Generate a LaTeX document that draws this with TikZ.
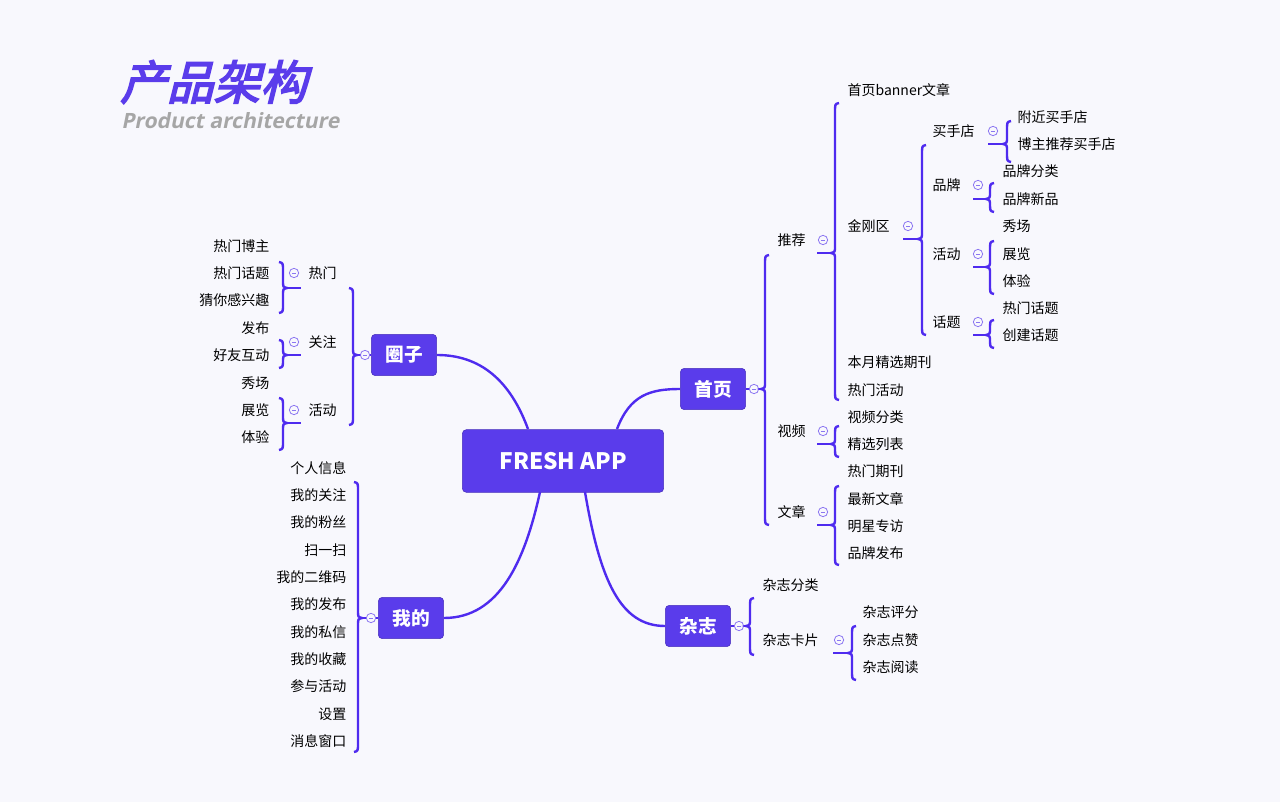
\documentclass[tikz,border=0pt]{standalone}
\usepackage{fontspec}
\setmainfont{Noto Sans CJK SC}
\newfontfamily\cjkt[FakeSlant=0.25,FakeBold=3.5]{Noto Sans CJK SC}
\newfontfamily\opt[FakeSlant=0.2]{Open Sans}
\begin{document}
\definecolor{pur}{HTML}{5A3CEB}
\definecolor{ln}{HTML}{4F2BEF}
\definecolor{bg}{HTML}{F8F8FD}
\newcommand{\brc}[5]{% x, top, mid, bot, dir
  \draw[br] ({#1+4*#5},#2) .. controls ({#1},{#2+1}) .. ({#1},{#2+9}) -- ({#1},{#3-7}) .. controls ({#1},{#3-1}) .. ({#1-4*#5},#3) .. controls ({#1},{#3+1}) .. ({#1},{#3+7}) -- ({#1},{#4-9}) .. controls ({#1},{#4-1}) .. ({#1+4*#5},#4);}
\begin{tikzpicture}[x=0.75pt,y=-0.75pt,
  box/.style={fill=pur,draw=pur!80!black,rounded corners=3pt,text=white,font=\fontsize{14}{16}\selectfont\bfseries,minimum height=31pt,inner sep=0pt},
  lf/.style={font=\fontsize{10.5}{12}\selectfont,inner sep=1pt},
  L/.style={lf,anchor=west},
  R/.style={lf,anchor=east},
  cir/.style={circle,draw=pur!70,fill=bg,line width=0.6pt,minimum size=7pt,inner sep=0pt,path picture={\draw[pur!70,line width=0.5pt] ([xshift=-1.6pt]path picture bounding box.center)--([xshift=1.6pt]path picture bounding box.center);}},
  br/.style={draw=ln,line width=1.8pt},
  con/.style={draw=ln,line width=1.8pt}]
\fill[bg] (0,0) rectangle (1280,802);
\useasboundingbox (0,0) rectangle (1280,802);
% title
\node[anchor=west,text=pur,font=\cjkt\fontsize{35}{38}\selectfont,inner sep=0] (t1) at (120,82) {产品架构};
\node[anchor=west,text=gray!70,font=\opt\fontsize{15.8}{18}\selectfont\bfseries,inner sep=0] (t2) at (121,121) {Product architecture};
% main boxes
\node[box,minimum width=151pt,font=\fontsize{17}{19}\selectfont\bfseries,minimum height=47pt] (app) at (563,461) {FRESH APP};
\node[box,minimum width=49pt] (sy) at (713,389) {首页};
\node[box,minimum width=49pt] (zz) at (698,626) {杂志};
\node[box,minimum width=49pt] (qz) at (404,355) {圈子};
\node[box,minimum width=49pt] (wd) at (411,618) {我的};
\draw[con] (617,429) .. controls (630,395) and (650,389) .. (sy.west);
\draw[con] (585,492) .. controls (600,580) and (620,626) .. (zz.west);
\draw[con] (528,429) .. controls (510,380) and (480,355) .. (qz.east);
\draw[con] (540,492) .. controls (525,560) and (500,618) .. (wd.east);
% 首页
\node[cir] (c-sy) at (754,389) {};
\draw[br] (sy.east)--(c-sy) (c-sy)--(761,389);
\brc{765}{255}{389}{525}{1}
\node[L] (tj) at (776,240) {推荐};
\node[L] (sp) at (776,431) {视频};
\node[L] (wz) at (776,512) {文章};
\node[cir] (c-tj) at (823,240) {};
\node[cir] (c-sp) at (823,431) {};
\node[cir] (c-wz) at (823,512) {};
\draw[br] (817,253)--(831,253) (817,444)--(831,444) (817,525)--(831,525);
% 推荐
\brc{835}{103}{253}{400}{1}
\node[L] (t-a) at (846,90) {首页banner文章};
\node[L] (jgq) at (846,226) {金刚区};
\node[L] (t-c) at (846,362) {本月精选期刊};
\node[L] (t-d) at (846,390) {热门活动};
\node[cir] (c-jgq) at (908,226) {};
\draw[br] (903,239)--(918,239);
\brc{922}{145}{239}{335}{1}
\node[L] (msd) at (931,131) {买手店};
\node[L] (pp) at (931,185) {品牌};
\node[L] (hd) at (931,254) {活动};
\node[L] (ht) at (931,322) {话题};
\node[cir] (c-ja) at (993,131) {};
\node[cir] (c-jb) at (978,185) {};
\node[cir] (c-jc) at (978,254) {};
\node[cir] (c-jd) at (978,322) {};
\draw[br] (988,144)--(1003,144) (973,199)--(986,199) (973,267)--(986,267) (973,335)--(986,335);
\brc{1007}{121}{144}{162}{1}
\node[L] (m1) at (1016,117) {附近买手店};
\node[L] (m2) at (1016,144) {博主推荐买手店};
\brc{990}{183}{199}{212}{1}
\node[L] (p1) at (1001,171) {品牌分类};
\node[L] (p2) at (1001,199) {品牌新品};
\brc{990}{241}{267}{294}{1}
\node[L] (h1) at (1001,226) {秀场};
\node[L] (h2) at (1001,254) {展览};
\node[L] (h3) at (1001,281) {体验};
\brc{990}{320}{335}{348}{1}
\node[L] (g1) at (1001,308) {热门话题};
\node[L] (g2) at (1001,335) {创建话题};
% 视频
\brc{835}{426}{444}{457}{1}
\node[L] (v1) at (846,417) {视频分类};
\node[L] (v2) at (846,444) {精选列表};
% 文章
\brc{835}{486}{525}{565}{1}
\node[L] (w1) at (846,471) {热门期刊};
\node[L] (w2) at (846,499) {最新文章};
\node[L] (w3) at (846,526) {明星专访};
\node[L] (w4) at (846,553) {品牌发布};
% 杂志
\node[cir] (c-zz) at (739,626) {};
\draw[br] (zz.east)--(c-zz) (c-zz)--(746,626);
\brc{750}{598}{626}{655}{1}
\node[L] (z1) at (761,585) {杂志分类};
\node[L] (zk) at (761,640) {杂志卡片};
\node[cir] (c-zk) at (839,640) {};
\draw[br] (833,653)--(848,653);
\brc{852}{626}{653}{680}{1}
\node[L] (k1) at (861,612) {杂志评分};
\node[L] (k2) at (861,640) {杂志点赞};
\node[L] (k3) at (861,667) {杂志阅读};
% 圈子
\node[cir] (c-qz) at (365,355) {};
\draw[br] (qz.west)--(c-qz) (c-qz)--(358,355);
\brc{353}{288}{355}{425}{-1}
\node[L] (rm) at (307,273) {热门};
\node[L] (gz) at (307,342) {关注};
\node[L] (hd2) at (307,410) {活动};
\node[cir] (c-rm) at (294,273) {};
\node[cir] (c-gz) at (294,342) {};
\node[cir] (c-hd) at (294,410) {};
\draw[br] (286,288)--(301,288) (286,355)--(301,355) (286,423)--(301,423);
\brc{283}{262}{288}{313}{-1}
\brc{283}{340}{355}{368}{-1}
\brc{283}{398}{423}{450}{-1}
\node[R] (q1) at (271,246) {热门博主};
\node[R] (q2) at (271,273) {热门话题};
\node[R] (q3) at (271,300) {猜你感兴趣};
\node[R] (q4) at (271,328) {发布};
\node[R] (q5) at (271,355) {好友互动};
\node[R] (q6) at (271,383) {秀场};
\node[R] (q7) at (271,410) {展览};
\node[R] (q8) at (271,437) {体验};
% 我的
\node[cir] (c-wd) at (371,618) {};
\draw[br] (wd.west)--(c-wd) (c-wd)--(362,618);
\brc{358}{482}{618}{752}{-1}
\foreach \y/\t/\n in {468/个人信息/1,495/我的关注/2,522/我的粉丝/3,550/扫一扫/4,577/我的二维码/5,604/我的发布/6,632/我的私信/7,659/我的收藏/8,686/参与活动/9,714/设置/10,741/消息窗口/11}{
  \node[R] (m-\n) at (348,\y) {\t};}
\end{tikzpicture}
\end{document}
